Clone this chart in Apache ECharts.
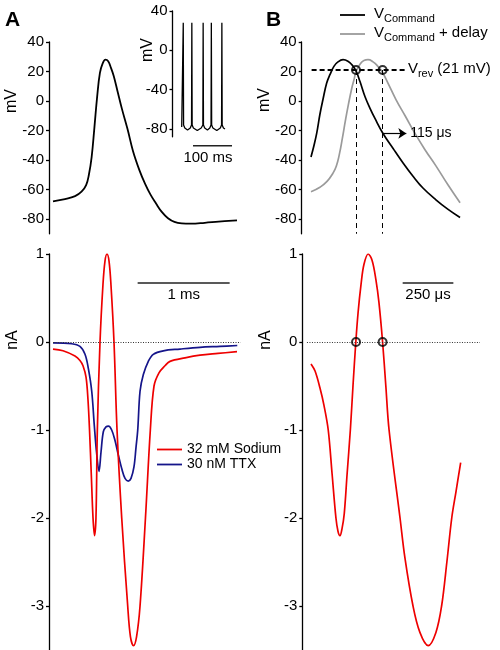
<!DOCTYPE html>
<html><head><meta charset="utf-8">
<script src="https://cdn.jsdelivr.net/npm/echarts@6/dist/echarts.min.js"></script>
<style>html,body{margin:0;padding:0;background:#fff}#c{width:500px;height:650px}</style>
</head><body><div id="c"></div>
<script>
// ---------------- DATA ----------------
// Panel A (top): single action potential, time (ms) / membrane potential (mV)
const apTime = [0,0.13,0.24,0.31,0.36,0.39,0.42,0.45,0.48,0.51,0.54,0.57,0.6,0.63,0.66,0.7,0.75,0.81,0.87,0.94,1.0,1.06,1.12,1.18,1.25,1.32,1.4,1.5,1.65,1.8,2.0];
const apVolt = [-68,-66.5,-64.5,-61.5,-57,-50,-38,-18,3,19,25.5,28,27,22.5,17,7,-5.5,-19,-34,-47,-56,-63.5,-69.5,-75,-79.5,-82,-83,-83.2,-82.6,-81.8,-80.9];
// Panel A inset: spike train, time (ms) / mV
const insetTime = [0,3.2,4,4.8,8,15,22,25.2,26,26.8,30,40,50,54.2,55,55.8,59,66,72,75.2,76,76.8,80,90,99,102.2,103,103.8,107,111];
const insetVolt = [-78,-76,28,-76,-79,-81,-79,-76,28,-76,-79,-81.5,-79,-76,28,-76,-79,-81,-79,-76,28,-76,-79,-81.5,-79,-76,28,-76,-79,-80];
// Panel A (bottom): currents, time (ms) / nA
const sodiumTime = [0,0.109,0.239,0.293,0.326,0.359,0.38,0.397,0.416,0.435,0.451,0.467,0.482,0.511,0.543,0.565,0.587,0.609,0.63,0.663,0.696,0.747,0.812,0.842,0.875,0.908,0.946,1.005,1.058,1.098,1.152,1.217,1.272,1.435,1.598,1.793,2.0];
const sodiumCurr = [-0.08,-0.10,-0.16,-0.21,-0.27,-0.4,-0.65,-1.0,-1.5,-2.0,-2.2,-2.0,-1.0,0,0.65,0.92,1.0,0.92,0.65,0,-1.0,-2.0,-3.0,-3.35,-3.45,-3.35,-3.0,-2.0,-1.0,-0.5,-0.35,-0.27,-0.22,-0.18,-0.15,-0.13,-0.11];
const ttxTime = [0,0.203,0.293,0.348,0.384,0.421,0.449,0.473,0.5,0.522,0.547,0.576,0.603,0.638,0.674,0.707,0.75,0.783,0.818,0.848,0.88,0.902,0.921,0.946,0.982,1.036,1.09,1.199,1.38,1.598,1.815,2.003];
const ttxCurr = [-0.01,-0.02,-0.05,-0.14,-0.3,-0.56,-0.95,-1.25,-1.47,-1.25,-1.02,-0.965,-0.955,-1.0,-1.12,-1.27,-1.45,-1.55,-1.58,-1.55,-1.42,-1.2,-1.0,-0.56,-0.37,-0.22,-0.14,-0.1,-0.08,-0.06,-0.05,-0.04];
// Panel B (top): command voltages, time (us) / mV
const cmdTime = [0,15,28,44,59,77,94,113,133,158,182,202,222,242,266,291,316,355,404,454,503,552,616,676,735];
const cmdVolt = [-38,-30,-22,-9,1,12,18,23.5,26.5,28,27,24.5,20.5,13,3,-5,-12,-22,-32,-42,-51,-59,-67,-73.5,-79];
const delayTime = [0,44,79,108,125,140,155,170,185,200,213,222,242,261,281,306,330,350,380,419,464,513,562,616,676,735];
const delayVolt = [-61.5,-58.5,-54.5,-49,-44,-36,-25,-13,-2,8,15,20,25,27.5,28,26.5,23.5,20,12,1,-10,-22,-33,-44,-57,-69];
// Panel B (bottom): sodium current, time (us) / nA
const curBTime = [0,20,44,64,85,104,123,133,143,153,164,178,194,207,221,232,247,261,282,301,320,335,353,369,385,439,463,503,537,578,616,644,670,694,715,738];
const curBVal = [-0.25,-0.33,-0.52,-0.72,-1.0,-1.5,-2.0,-2.15,-2.2,-2.12,-1.95,-1.5,-1.0,-0.5,0,0.33,0.66,0.88,1.0,0.93,0.71,0.45,0,-0.5,-1.0,-2.0,-2.45,-3.0,-3.3,-3.45,-3.3,-3.0,-2.5,-2.0,-1.7,-1.37];
// Annotations
const vRev = 21;                    // mV
const vRevSpan = [3, 463];          // us
const crossTimes = [222, 353];      // us, where I = 0 and V = Vrev
const delayArrow = {start: 355, level: -22, len: 115}; // us, mV, us
const zeroSpanA = [0, 2.04];        // ms
const zeroSpanB = [-20, 833];       // us
const barA = {start: 0.92, level: 0.67, len: 1};      // 1 ms
const barB = {start: 452, level: 0.67, len: 250};     // 250 us
const barInset = {start: 29, level: -97, len: 100};   // 100 ms
const mvTicks = [-80,-60,-40,-20,0,20,40];
const insetTicks = [-80,-40,0,40];
const naTicks = [-3,-2,-1,0,1];
const legendA = ['32 mM Sodium','30 nM TTX'];
const legendB = ['VCommand','VCommand + delay'];

// ---------------- LAYOUT ----------------
const FONT = '"Liberation Sans", Arial, Helvetica, sans-serif';
const zip = (a,b) => a.map((v,i)=>[v,b[i]]);
function panel(axisX, originX, pxX, rightX, topY, pxY, ymax, ymin){
  return {grid:{left:axisX, top:topY, width:rightX-axisX, height:(ymax-ymin)*pxY, containLabel:false, outerBoundsMode:'none'},
          xmin:(axisX-originX)/pxX, xmax:(rightX-originX)/pxX, ymin, ymax};
}
const P = [
  panel(49, 53, 92, 245, 42, 1.475, 40, -90),        // A top
  panel(172.5, 181.7, 0.39, 240, 11, 0.983, 40, -88), // inset
  panel(49, 53, 92, 245, 254, 88, 1, -3.5),           // A bottom
  panel(301.7, 311, 0.2028, 485, 42, 1.475, 40, -90), // B top
  panel(302.3, 311, 0.2028, 485, 254, 88, 1, -3.5)    // B bottom
];
const tickSets = [mvTicks, insetTicks, naTicks, mvTicks, naTicks];
function yAx(i){
  const t = tickSets[i];
  return {type:'value', gridIndex:i, min:P[i].ymin, max:P[i].ymax,
    axisLine:{show:true, onZero:false, lineStyle:{color:'#000', width:1.3}},
    axisTick:{show:true, length:3, customValues:t, lineStyle:{color:'#000', width:1.3}},
    axisLabel:{show:true, customValues:t, fontSize:15, color:'#000', margin:5, fontFamily:FONT},
    splitLine:{show:false}};
}
function xAx(i){
  return {type:'value', gridIndex:i, min:P[i].xmin, max:P[i].xmax, show:false, splitLine:{show:false}};
}
function seg(x0,y0,x1,y1,extra){ return [Object.assign({coord:[x0,y0]}, extra||{}), {coord:[x1,y1]}]; }
const richSub = {
  v0:{fontSize:15, lineHeight:18, verticalAlign:'top', padding:[0,0,0,4], fontFamily:FONT, color:'#000'},
  v:{fontSize:15, lineHeight:18, verticalAlign:'top', fontFamily:FONT, color:'#000'},
  s:{fontSize:11, lineHeight:11, verticalAlign:'bottom', fontFamily:FONT, color:'#000'}
};
const RED = '#ee0000', NAVY = '#15158a', GRAY = '#9a9a9a';
const dashV = {type:[5,4], color:'#000', width:1};
const barStyle = {type:'solid', color:'#222', width:1.5};

const option = {
  animation:false,
  backgroundColor:'#fff',
  textStyle:{fontFamily:FONT, color:'#000'},
  grid: P.map(p=>p.grid),
  xAxis: P.map((p,i)=>xAx(i)),
  yAxis: P.map((p,i)=>yAx(i)),
  legend:[
    {data:legendA, orient:'vertical', left:157, top:442, itemWidth:25, itemHeight:1.8, icon:'rect', itemGap:0,
     selectedMode:false, padding:0, textStyle:{fontSize:14, lineHeight:15, color:'#000', fontFamily:FONT}},
    {data:legendB, orient:'vertical', left:340, top:6, itemWidth:25, itemHeight:1.8, icon:'rect', itemGap:1,
     selectedMode:false, padding:0,
     formatter: n => n === 'VCommand' ? '{v0|V}{s|Command}' : '{v0|V}{s|Command}{v| + delay}',
     textStyle:{fontSize:15, color:'#000', fontFamily:FONT, rich:richSub}}
  ],
  graphic:[
    {type:'text', x:5, y:20, style:{text:'A', fontSize:21, fontWeight:'bold', fontFamily:FONT, fill:'#000', verticalAlign:'middle'}},
    {type:'text', x:266, y:20, style:{text:'B', fontSize:21, fontWeight:'bold', fontFamily:FONT, fill:'#000', verticalAlign:'middle'}},
    {type:'text', x:12, y:101, rotation:Math.PI/2, style:{text:'mV', fontSize:16, fontFamily:FONT, fill:'#000', align:'center', verticalAlign:'middle'}},
    {type:'text', x:13, y:340, rotation:Math.PI/2, style:{text:'nA', fontSize:16, fontFamily:FONT, fill:'#000', align:'center', verticalAlign:'middle'}},
    {type:'text', x:148, y:50, rotation:Math.PI/2, style:{text:'mV', fontSize:16, fontFamily:FONT, fill:'#000', align:'center', verticalAlign:'middle'}},
    {type:'text', x:265, y:100, rotation:Math.PI/2, style:{text:'mV', fontSize:16, fontFamily:FONT, fill:'#000', align:'center', verticalAlign:'middle'}},
    {type:'text', x:266, y:340, rotation:Math.PI/2, style:{text:'nA', fontSize:16, fontFamily:FONT, fill:'#000', align:'center', verticalAlign:'middle'}},
    {type:'text', x:208, y:158, style:{text:'100 ms', fontSize:15, fontFamily:FONT, fill:'#000', align:'center', verticalAlign:'middle'}}
  ],
  series:[
    {type:'line', name:'AP', xAxisIndex:0, yAxisIndex:0, data:zip(apTime, apVolt), smooth:0.4, symbol:'none',
     lineStyle:{color:'#000', width:1.8}, itemStyle:{color:'#000'}, silent:true, clip:false},
    {type:'line', name:'train', xAxisIndex:1, yAxisIndex:1, data:zip(insetTime, insetVolt), smooth:false, symbol:'none',
     lineStyle:{color:'#000', width:1.3}, itemStyle:{color:'#000'}, silent:true},
    {type:'line', name:'insetBar', xAxisIndex:1, yAxisIndex:1, clip:false, symbol:'none', silent:true,
     data:[[barInset.start, barInset.level],[barInset.start+barInset.len, barInset.level]],
     lineStyle:{color:'#222', width:1.5}},
    {type:'line', name:legendA[0], xAxisIndex:2, yAxisIndex:2, data:zip(sodiumTime, sodiumCurr), smooth:0.35, symbol:'none',
     lineStyle:{color:RED, width:1.7}, itemStyle:{color:RED}, silent:true, z:3,
     markLine:{silent:true, symbol:['none','none'], animation:false, label:{show:false},
       data:[
         seg(zeroSpanA[0],0,zeroSpanA[1],0,{lineStyle:{type:[1,1.5], color:'#333', width:1}}),
         seg(barA.start,barA.level,barA.start+barA.len,barA.level,{lineStyle:barStyle,
           label:{show:true, position:'insideMiddleBottom', formatter:'1 ms', fontSize:15, color:'#000', distance:4}})
       ]}},
    {type:'line', name:legendA[1], xAxisIndex:2, yAxisIndex:2, data:zip(ttxTime, ttxCurr), smooth:0.35, symbol:'none',
     lineStyle:{color:NAVY, width:1.7}, itemStyle:{color:NAVY}, silent:true, z:2},
    {type:'line', name:legendB[1], xAxisIndex:3, yAxisIndex:3, data:zip(delayTime, delayVolt), smooth:0.5, symbol:'none',
     lineStyle:{color:GRAY, width:1.7}, itemStyle:{color:GRAY}, silent:true, z:2,
     markLine:{silent:true, symbol:['none','arrow'], symbolSize:8, animation:false,
       data:[ seg(delayArrow.start, delayArrow.level, delayArrow.start+delayArrow.len, delayArrow.level,
         {lineStyle:{type:'solid', color:'#000', width:1.2},
          label:{show:true, position:'end', formatter:'115 \u03bcs', fontSize:14, color:'#000', distance:4}}) ]}},
    {type:'line', name:legendB[0], xAxisIndex:3, yAxisIndex:3, data:zip(cmdTime, cmdVolt), smooth:0.4, symbol:'none',
     lineStyle:{color:'#000', width:1.7}, itemStyle:{color:'#000'}, silent:true, z:3,
     markLine:{silent:true, symbol:['none','none'], animation:false,
       data:[ seg(vRevSpan[0], vRev, vRevSpan[1], vRev,
         {lineStyle:{type:[5,3], color:'#000', width:2},
          label:{show:true, position:'end', distance:3, formatter:'{v|V}{s|rev}{v| (21 mV)}', rich:richSub}}) ]}},
    {type:'scatter', name:'crossTop', xAxisIndex:3, yAxisIndex:3, data:crossTimes.map(t=>[t,vRev]),
     symbol:'circle', symbolSize:8, itemStyle:{color:'rgba(255,255,255,0)', borderColor:'#000', borderWidth:2}, silent:true, z:5,
     markLine:{silent:true, symbol:['none','none'], animation:false, label:{show:false}, lineStyle:dashV,
       data: crossTimes.map(t=>seg(t, vRev, t, P[3].ymin))}},
    {type:'line', name:'sodiumB', xAxisIndex:4, yAxisIndex:4, data:zip(curBTime, curBVal), smooth:0.35, symbol:'none',
     lineStyle:{color:RED, width:1.7}, itemStyle:{color:RED}, silent:true, z:3,
     markLine:{silent:true, symbol:['none','none'], animation:false, label:{show:false},
       data:[
         seg(zeroSpanB[0],0,zeroSpanB[1],0,{lineStyle:{type:[1,1.5], color:'#333', width:1}}),
         seg(barB.start,barB.level,barB.start+barB.len,barB.level,{lineStyle:barStyle,
           label:{show:true, position:'insideMiddleBottom', formatter:'250 \u03bcs', fontSize:15, color:'#000', distance:4}})
       ]}},
    {type:'scatter', name:'crossBottom', xAxisIndex:4, yAxisIndex:4, data:crossTimes.map(t=>[t,0]),
     symbol:'circle', symbolSize:8, itemStyle:{color:'rgba(255,255,255,0)', borderColor:'#000', borderWidth:2}, silent:true, z:5,
     markLine:{silent:true, symbol:['none','none'], animation:false, label:{show:false}, lineStyle:dashV,
       data: crossTimes.map(t=>seg(t, 0, t, 1.25))}}
  ]
};
const chart = echarts.init(document.getElementById('c'), null, {renderer:'canvas'});
chart.setOption(option);
</script>
</body></html>
